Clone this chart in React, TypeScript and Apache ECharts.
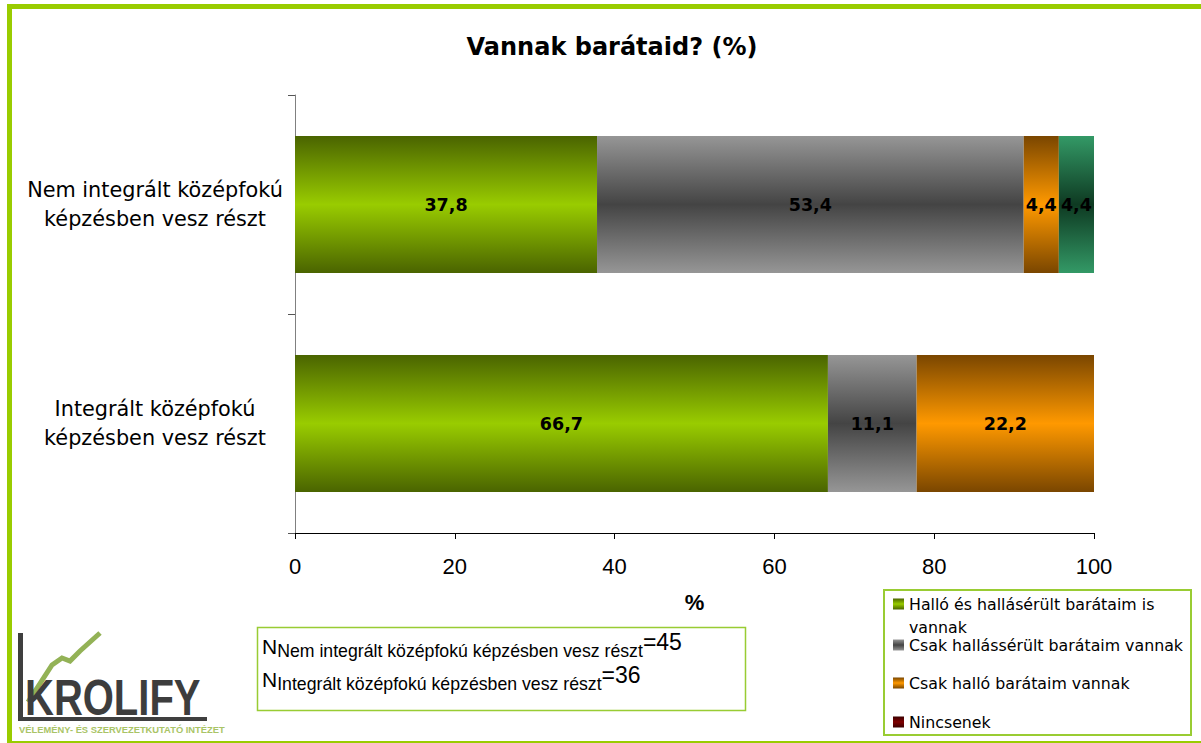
import React, { useEffect, useRef } from "react";
import * as echarts from "echarts";

// ---- DATA ----
const categories = [
  "Integrált középfokú képzésben vesz részt",
  "Nem integrált középfokú képzésben vesz részt",
];
const seriesNames = [
  "Halló és hallásérült barátaim is vannak",
  "Csak hallássérült barátaim vannak",
  "Csak halló barátaim vannak",
  "Nincsenek",
];
const halloEsHallasserult = [66.7, 37.8];
const csakHallasserult = [11.1, 53.4];
const csakHallo = [22.2, 4.4];
const nincsenek = [0, 4.4];
const xTickValues = [0, 20, 40, 60, 80, 100];
const nGroups = [
  "Nem integrált középfokú képzésben vesz részt",
  "Integrált középfokú képzésben vesz részt",
];
const nValues = [45, 36];
const titleText = "Vannak barátaid? (%)";
const axisName = "%";

const grad = (edge: string, mid: string) =>
  new echarts.graphic.LinearGradient(0, 0, 0, 1, [
    { offset: 0, color: edge },
    { offset: 0.5, color: mid },
    { offset: 1, color: edge },
  ]);

export default function App() {
  const ref = useRef<HTMLDivElement>(null);
  useEffect(() => {
    if (!ref.current) return;
    const chart = echarts.init(ref.current, undefined, { renderer: "svg" });
    const fills = [
      grad("#4a6400", "#99cc00"),
      grad("#969696", "#444444"),
      grad("#7a4600", "#ff9900"),
      grad("#339966", "#0e3a22"),
    ];
    const legendIconColors = [
      grad("#4a6400", "#99cc00"),
      grad("#969696", "#444444"),
      grad("#7a4600", "#ff9900"),
      grad("#3a0000", "#800000"),
    ];
    const dataSets = [halloEsHallasserult, csakHallasserult, csakHallo, nincsenek];
    const legendCenters = [604, 645, 683, 722];
    const fmt = (v: number) => v.toFixed(1).replace(".", ",");

    const legends = seriesNames.map((name, i) => {
      const first = i === 0;
      return {
        data: [{ name, icon: "rect", itemStyle: { color: legendIconColors[i] } }],
        orient: "vertical",
        left: 893,
        top: first ? legendCenters[i] - 34.5 : legendCenters[i] - 9,
        padding: 0,
        itemWidth: 11,
        itemHeight: 11,
        itemGap: 0,
        selectedMode: false,
        formatter: first ? () => " \nHalló és hallásérült barátaim is\nvannak" : undefined,
        textStyle: {
          fontFamily: "DejaVu Sans",
          fontSize: 15.8,
          color: "#000",
          lineHeight: first ? 23 : 18,
        },
      };
    });

    const nRich = {
      n: { fontFamily: "Liberation Sans", fontSize: 21, color: "#000", lineHeight: 30 },
      s: { fontFamily: "Liberation Sans", fontSize: 17.7, color: "#000", lineHeight: 30, padding: [10, 0, 0, 0] },
      e: { fontFamily: "Liberation Sans", fontSize: 23, color: "#000", lineHeight: 30, padding: [0, 0, 8, 0] },
    };

    chart.setOption({
      animation: false,
      backgroundColor: "#ffffff",
      title: {
        text: titleText,
        left: 607,
        textAlign: "center",
        top: 30,
        textStyle: { fontFamily: "DejaVu Sans", fontWeight: "bold", fontSize: 24, color: "#000" },
      },
      legend: legends,
      grid: { left: 295, right: 107, top: 95, bottom: 210, containLabel: false },
      xAxis: {
        type: "value",
        min: 0,
        max: 100,
        interval: 20,
        name: axisName,
        nameLocation: "middle",
        nameGap: 58,
        nameTextStyle: { fontFamily: "Liberation Sans", fontWeight: "bold", fontSize: 22, color: "#000" },
        axisLine: { show: true, lineStyle: { color: "#000", width: 1 } },
        axisTick: { show: true, length: 6, lineStyle: { color: "#000" } },
        axisLabel: {
          margin: 22,
          fontFamily: "Liberation Sans",
          fontSize: 22,
          color: "#000",
          formatter: (v: number) => (xTickValues.includes(v) ? String(v) : ""),
        },
        splitLine: { show: false },
      },
      yAxis: {
        type: "category",
        data: categories,
        axisLine: { show: true, lineStyle: { color: "#808080", width: 1 } },
        axisTick: { show: true, length: 7, lineStyle: { color: "#555" } },
        axisLabel: {
          margin: 140,
          align: "center",
          fontFamily: "DejaVu Sans",
          fontSize: 20.8,
          lineHeight: 29,
          color: "#000",
          formatter: (v: string) => v.replace(" képzésben", "\nképzésben"),
        },
      },
      series: seriesNames.map((name, i) => ({
        name,
        type: "bar",
        stack: "total",
        barWidth: "62.5%",
        data: dataSets[i],
        itemStyle: { color: fills[i] },
        label: {
          show: true,
          position: "inside",
          fontFamily: "DejaVu Sans",
          fontWeight: "bold",
          fontSize: 17.5,
          color: "#000",
          formatter: (p: any) => (p.value ? fmt(p.value) : ""),
        },
      })),
      graphic: [
        // outer frame
        {
          type: "rect",
          shape: { x: 9.5, y: 6.5, width: 1200, height: 737 },
          style: { fill: "none", stroke: "#99cc00", lineWidth: 5 },
          silent: true,
          z: 0,
        },
        // legend box
        {
          type: "rect",
          shape: { x: 884, y: 590, width: 307, height: 145 },
          style: { fill: "none", stroke: "#99cc33", lineWidth: 2 },
          silent: true,
        },
        // N box
        {
          type: "rect",
          shape: { x: 257.5, y: 627.5, width: 488, height: 83 },
          style: { fill: "#fff", stroke: "#99cc33", lineWidth: 1.5 },
          silent: true,
        },
        {
          type: "text",
          x: 262,
          y: 631,
          style: {
            text: `{n|N}{s|${nGroups[0]}}{e|=${nValues[0]}}`,
            rich: nRich,
          },
        },
        {
          type: "text",
          x: 262,
          y: 664,
          style: {
            text: `{n|N}{s|${nGroups[1]}}{e|=${nValues[1]}}`,
            rich: nRich,
          },
        },
        // logo
        {
          type: "rect",
          shape: { x: 18, y: 633, width: 5, height: 88 },
          style: { fill: "#3f3f3f" },
          silent: true,
        },
        {
          type: "rect",
          shape: { x: 18, y: 717, width: 189, height: 4 },
          style: { fill: "#3f3f3f" },
          silent: true,
        },
        {
          type: "polyline",
          shape: {
            points: [
              [28, 702],
              [52, 665],
              [62, 658],
              [70, 661],
              [80, 651],
              [100, 633],
            ],
          },
          style: { stroke: "#93b256", lineWidth: 5, fill: "none" },
          silent: true,
        },
        {
          type: "text",
          x: 25,
          y: 723,
          scaleX: 0.8,
          style: {
            text: "KROLIFY",
            fontFamily: "Liberation Sans",
            fontWeight: "bold",
            fontSize: 50,
            fill: "#3d3d3d",
            verticalAlign: "bottom",
          },
          silent: true,
        },
        {
          type: "text",
          x: 19,
          y: 730,
          scaleX: 1.04,
          style: {
            text: "VÉLEMÉNY- ÉS SZERVEZETKUTATÓ INTÉZET",
            fontFamily: "Liberation Sans",
            fontWeight: "bold",
            fontSize: 9,
            fill: "#a9c466",
            verticalAlign: "middle",
          },
          silent: true,
        },
      ],
    });
    return () => chart.dispose();
  }, []);
  return (
    <div
      ref={ref}
      style={{ position: "fixed", left: 0, top: 0, width: 1201, height: 743 }}
    />
  );
}
